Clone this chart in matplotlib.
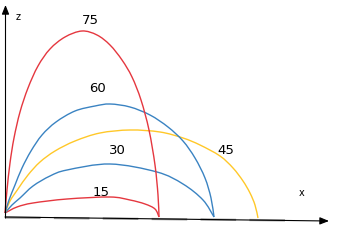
import matplotlib
matplotlib.use("Agg")
import matplotlib.pyplot as plt
from matplotlib.path import Path
from matplotlib.patches import PathPatch

# curve points, in pixel units (x right, y down)
red75_x = [5, 7, 10, 14, 20, 28, 38, 50, 65, 82, 97, 110, 122, 132, 141, 149, 155, 158, 159]
red75_y = [213, 190, 163, 138, 112, 88, 66, 49, 37, 31, 35, 45, 60, 77, 100, 130, 165, 195, 217]

blue60_x = [5, 9, 15, 22, 31, 42, 56, 75, 95, 110, 130, 150, 168, 183, 195, 205, 211, 214]
blue60_y = [213, 200, 185, 168, 151, 135, 122, 111, 106, 104, 107, 115, 127, 141, 158, 178, 198, 217]

yellow45_x = [5, 10, 18, 28, 40, 55, 75, 100, 130, 160, 183, 200, 220, 233, 243, 250, 255, 258]
yellow45_y = [213, 201, 189, 175, 162, 151, 141, 133, 130, 132, 138, 145, 156, 168, 181, 193, 205, 218]

blue30_x = [5, 12, 20, 33, 50, 67, 110, 157, 183, 203, 214]
blue30_y = [213, 205, 198, 186, 176, 170, 164, 172, 184, 200, 217]

red15_x = [5, 17, 33, 67, 110, 130, 145, 155, 159]
red15_y = [213, 207, 203, 199, 197, 200, 204, 209, 217]

labels = ["z", "75", "60", "30", "45", "15", "x"]
label_x = [18, 90, 98, 117, 226, 101, 302]
label_y = [17, 20, 88, 150, 151, 193, 193]

RED = "#e5373f"
BLUE = "#3a83c2"
YELLOW = "#ffc829"


def smooth_path(xs, ys):
    # Catmull-Rom through the read points, handed to matplotlib as Bezier segments
    pts = list(zip(xs, ys))
    verts = [pts[0]]
    codes = [Path.MOVETO]
    for i in range(len(pts) - 1):
        p0 = pts[max(i - 1, 0)]
        p1, p2 = pts[i], pts[i + 1]
        p3 = pts[min(i + 2, len(pts) - 1)]
        c1 = (p1[0] + (p2[0] - p0[0]) / 6, p1[1] + (p2[1] - p0[1]) / 6)
        c2 = (p2[0] - (p3[0] - p1[0]) / 6, p2[1] - (p3[1] - p1[1]) / 6)
        verts += [c1, c2, p2]
        codes += [Path.CURVE4] * 3
    return Path(verts, codes)


fig = plt.figure(figsize=(3.53, 2.40), dpi=100)
ax = fig.add_axes([0, 0, 1, 1])
ax.set_xlim(0, 353)
ax.set_ylim(240, 0)
ax.axis("off")

# axes with arrow heads
ax.plot([5, 298], [217.5, 220.5], color="#9a9a9a", lw=1.6, dashes=(16, 6))
ax.annotate("", xy=(329, 221), xytext=(5, 217),
            arrowprops=dict(arrowstyle="-|>,head_length=0.55,head_width=0.22",
                            color="black", lw=0.8, shrinkA=0, shrinkB=0))
ax.annotate("", xy=(5.5, 5), xytext=(5.5, 218),
            arrowprops=dict(arrowstyle="-|>,head_length=0.55,head_width=0.22",
                            color="black", lw=0.8, shrinkA=0, shrinkB=0))

for xs, ys, c in [(red15_x, red15_y, RED), (blue30_x, blue30_y, BLUE),
                  (yellow45_x, yellow45_y, YELLOW), (blue60_x, blue60_y, BLUE),
                  (red75_x, red75_y, RED)]:
    ax.add_patch(PathPatch(smooth_path(xs, ys), fill=False, edgecolor=c, lw=1.0))

for t, x, y in zip(labels, label_x, label_y):
    size = 7 if t in ("x", "z") else 9.5
    ax.text(x, y, t, fontsize=size, family="DejaVu Sans",
            ha="center", va="center", color="black")

fig.savefig("out.png", dpi=100)
